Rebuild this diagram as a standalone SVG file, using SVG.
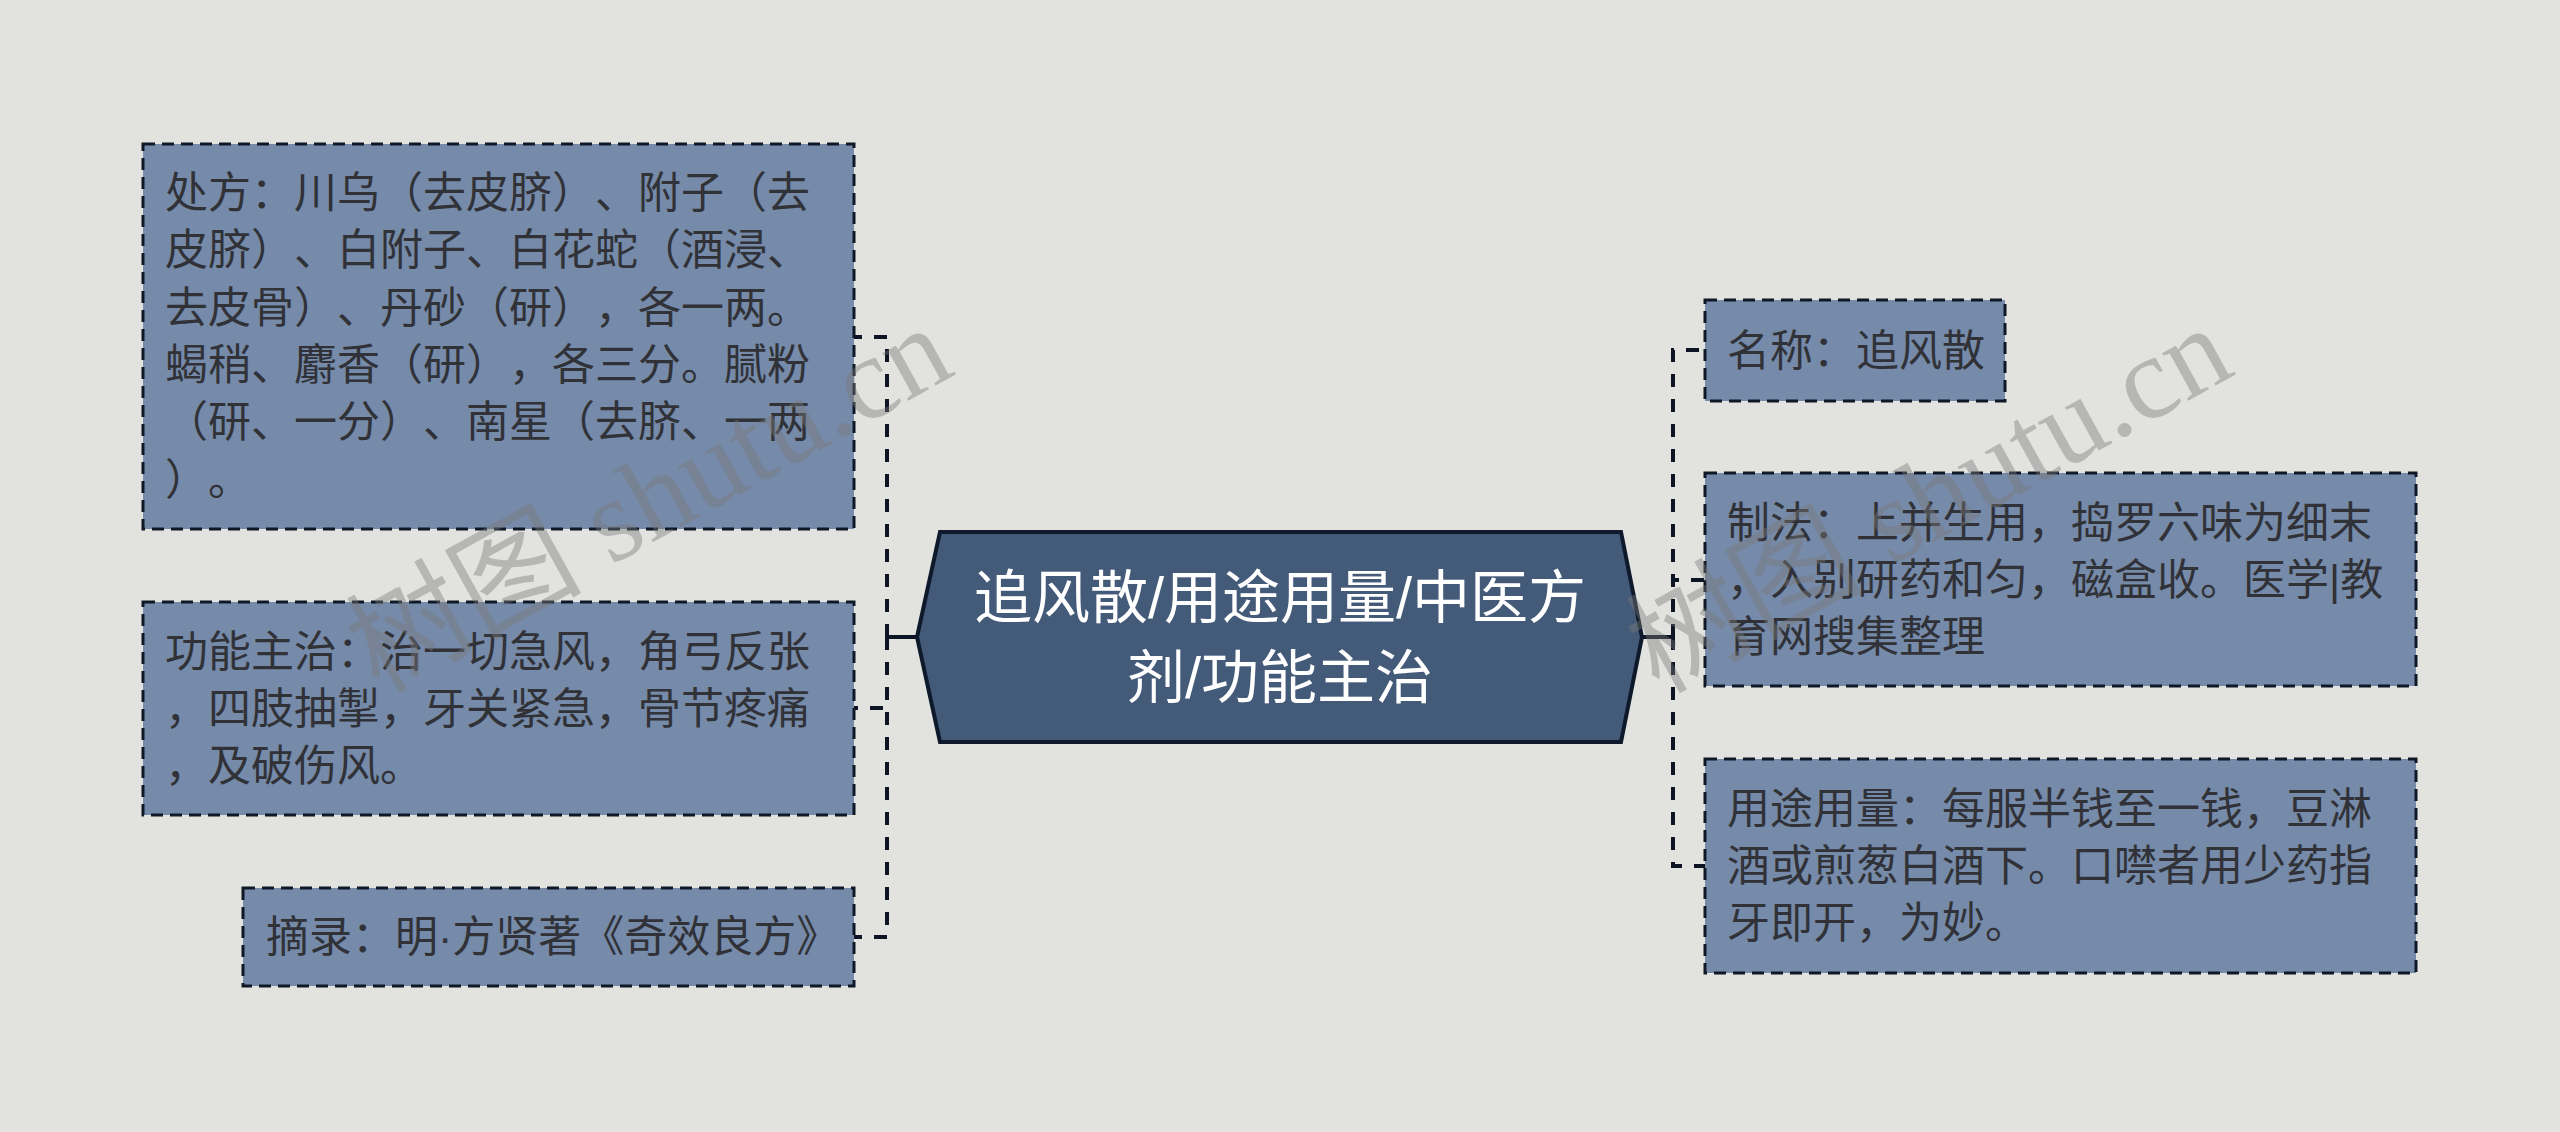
<svg xmlns="http://www.w3.org/2000/svg" width="2560" height="1132" viewBox="0 0 2560 1132">
<style>
.bg{fill:#e2e3df}
.box{fill:#768aa9;stroke:#0f1826;stroke-width:3;stroke-dasharray:12 7}
.t{font-family:"Liberation Sans","Noto Sans CJK SC",sans-serif;font-size:43px;fill:#303238;text-spacing-trim:space-all}
.title{font-family:"Liberation Sans","Noto Sans CJK SC",sans-serif;font-size:58px;fill:#ffffff;text-anchor:middle;text-spacing-trim:space-all}
.hex{fill:#435a79;stroke:#0e1a2b;stroke-width:4;stroke-linejoin:miter}
.dash{fill:none;stroke:#0d1524;stroke-width:4;stroke-dasharray:13 12}
.solid{fill:none;stroke:#0d1524;stroke-width:4}
.wm{font-family:"Liberation Serif","Noto Sans CJK SC",serif;font-size:118px;fill:#7a7a7a;fill-opacity:0.42;text-anchor:middle}
</style>
<rect class="bg" x="0" y="0" width="2560" height="1132"/>
<g id="connectors">
<path class="solid" d="M917,637 H887"/>
<path class="dash" d="M887,637 V337 H854"/>
<path class="dash" d="M887,637 V708 H854"/>
<path class="dash" d="M887,637 V937 H854"/>
<path class="solid" d="M1642,637 H1673"/>
<path class="dash" d="M1673,637 V350 H1705"/>
<path class="dash" d="M1673,637 V580 H1705"/>
<path class="dash" d="M1673,637 V866 H1705"/>
</g>
<g id="center">
<polygon class="hex" points="940,532 1621,532 1642,637 1621,742 940,742 917,637"/>
<text class="title" x="1280" y="618">追风散/用途用量/中医方</text>
<text class="title" x="1280" y="698">剂/功能主治</text>
</g>
<g id="node-chufang">
<rect class="box" x="143" y="144" width="711" height="385"/>
<text class="t" x="165" y="208">处方：川乌（去皮脐）、附子（去</text>
<text class="t" x="165" y="265">皮脐）、白附子、白花蛇（酒浸、</text>
<text class="t" x="165" y="323">去皮骨）、丹砂（研），各一两。</text>
<text class="t" x="165" y="380">蝎稍、麝香（研），各三分。腻粉</text>
<text class="t" x="165" y="437">（研、一分）、南星（去脐、一两</text>
<text class="t" x="165" y="495">）。</text>
</g>
<g id="node-gongneng">
<rect class="box" x="143" y="602" width="711" height="213"/>
<text class="t" x="165" y="667">功能主治：治一切急风，角弓反张</text>
<text class="t" x="165" y="724">，四肢抽掣，牙关紧急，骨节疼痛</text>
<text class="t" x="165" y="781">，及破伤风。</text>
</g>
<g id="node-zhailu">
<rect class="box" x="243" y="888" width="611" height="98"/>
<text class="t" x="266" y="952">摘录：明·方贤著《奇效良方》</text>
</g>
<g id="node-mingcheng">
<rect class="box" x="1705" y="300" width="300" height="101"/>
<text class="t" x="1727" y="366">名称：追风散</text>
</g>
<g id="node-zhifa">
<rect class="box" x="1705" y="473" width="711" height="213"/>
<text class="t" x="1727" y="538">制法：上并生用，捣罗六味为细末</text>
<text class="t" x="1727" y="595">，入别研药和匀，磁盒收。医学|教</text>
<text class="t" x="1727" y="652">育网搜集整理</text>
</g>
<g id="node-yongtu">
<rect class="box" x="1705" y="759" width="711" height="214"/>
<text class="t" x="1727" y="824">用途用量：每服半钱至一钱，豆淋</text>
<text class="t" x="1727" y="881">酒或煎葱白酒下。口噤者用少药指</text>
<text class="t" x="1727" y="938">牙即开，为妙。</text>
</g>
<g id="watermarks">
<text class="wm" transform="translate(668,534) rotate(-29)">树图 shutu.cn</text>
<text class="wm" transform="translate(1948,534) rotate(-29)">树图 shutu.cn</text>
</g>
</svg>
